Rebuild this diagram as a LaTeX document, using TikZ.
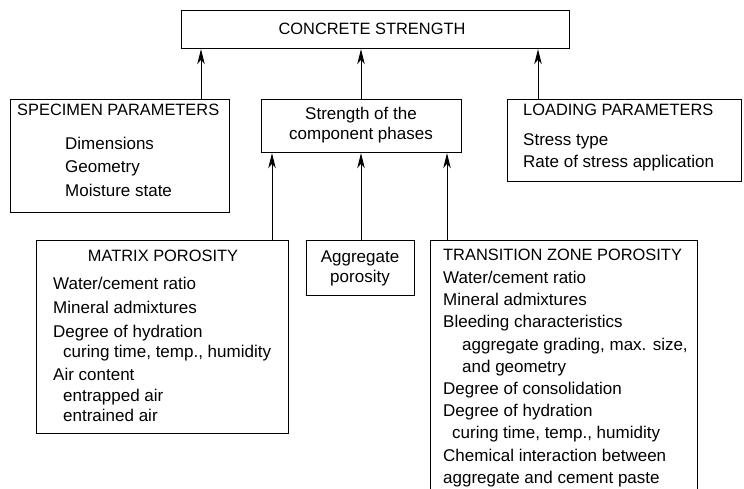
\documentclass[tikz,border=0pt]{standalone}
\usepackage{fontspec}
\setmainfont{Liberation Sans}
\usetikzlibrary{arrows.meta}

\begin{document}
\begin{tikzpicture}[x=1pt, y=-1pt,
	every node/.style={inner sep=0pt, font=\fontsize{17}{21}\selectfont},
	box/.style={draw, line width=1.2pt, anchor=north west},
	txt/.style={align=left, anchor=north west},
	title/.style={font=\fontsize{16.4}{21}\selectfont},
	arr/.style={line width=1pt, -{Stealth[length=15pt, width=7.5pt, inset=4.5pt]}}]
	\clip (0,0) rectangle (744,488);

	% top
	\node[box, minimum width=388pt, minimum height=38pt]	(strength)		at (181,10)		{};
	\node[title]											(strengthtxt)	at (372,29)		{CONCRETE STRENGTH};

	% second row
	\node[box, minimum width=219pt, minimum height=113pt]	(spec)			at (10,99)		{};
	\node[title, anchor=west]								(spectitle)		at (17,110)		{SPECIMEN PARAMETERS};
	\node[txt, font=\fontsize{17}{23.5}\selectfont]			(spectxt)		at (65,136.5)	{Dimensions\\Geometry\\Moisture state};

	\node[box, minimum width=200pt, minimum height=53pt]	(phase)			at (261,99)		{};
	\node[align=center, font=\fontsize{17}{20}\selectfont]	(phasetxt)		at (361,125)	{Strength of the\\component phases};

	\node[box, minimum width=234pt, minimum height=82pt]	(load)			at (507,99)		{};
	\node[title, anchor=west]								(loadtitle)		at (523,110)	{LOADING PARAMETERS};
	\node[txt, font=\fontsize{17}{22}\selectfont]			(loadtxt)		at (523,133.7)	{Stress type\\Rate of stress application};

	% third row
	\node[box, minimum width=252pt, minimum height=193pt]	(matrix)		at (36,240)		{};
	\node[title]											(matrixtitle)	at (163,256)	{MATRIX POROSITY};
	\node[txt, font=\fontsize{17}{20.5}\selectfont]			(matrixtxt)		at (53,276.5)	{Water/cement ratio\\[3.5pt]Mineral admixtures\\[3.5pt]Degree of hydration\\\hspace*{10pt}curing time, temp., humidity\\[2.5pt]Air content\\\hspace*{10pt}entrapped air\\\hspace*{10pt}entrained air};

	\node[box, minimum width=108pt, minimum height=55pt]	(aggr)			at (306,240)	{};
	\node[align=center, font=\fontsize{17}{20}\selectfont]	(aggrtxt)		at (360,268)	{Aggregate\\porosity};

	\node[box, minimum width=267pt, minimum height=270pt]	(trans)			at (430,240)	{};
	\node[title, anchor=west]								(transtitle)	at (443,255)	{TRANSITION ZONE POROSITY};
	\node[txt, font=\fontsize{17}{22.2}\selectfont]			(transtxt)		at (443,270.9)	{Water/cement ratio\\Mineral admixtures\\Bleeding characteristics\\\hspace*{19pt}aggregate grading, max. size,\\\hspace*{19pt}and geometry\\Degree of consolidation\\Degree of hydration\\\hspace*{9pt}curing time, temp., humidity\\Chemical interaction between\\aggregate and cement paste};

	\path[arr]
	(201,0 |- spec.north)	edge	(201,0 |- strength.south)
	(361,0 |- phase.north)	edge	(361,0 |- strength.south)
	(538,0 |- load.north)	edge	(538,0 |- strength.south)
	(272,0 |- matrix.north)	edge	(272,0 |- phase.south)
	(361,0 |- aggr.north)	edge	(361,0 |- phase.south)
	(447,0 |- trans.north)	edge	(447,0 |- phase.south);
\end{tikzpicture}
\end{document}
